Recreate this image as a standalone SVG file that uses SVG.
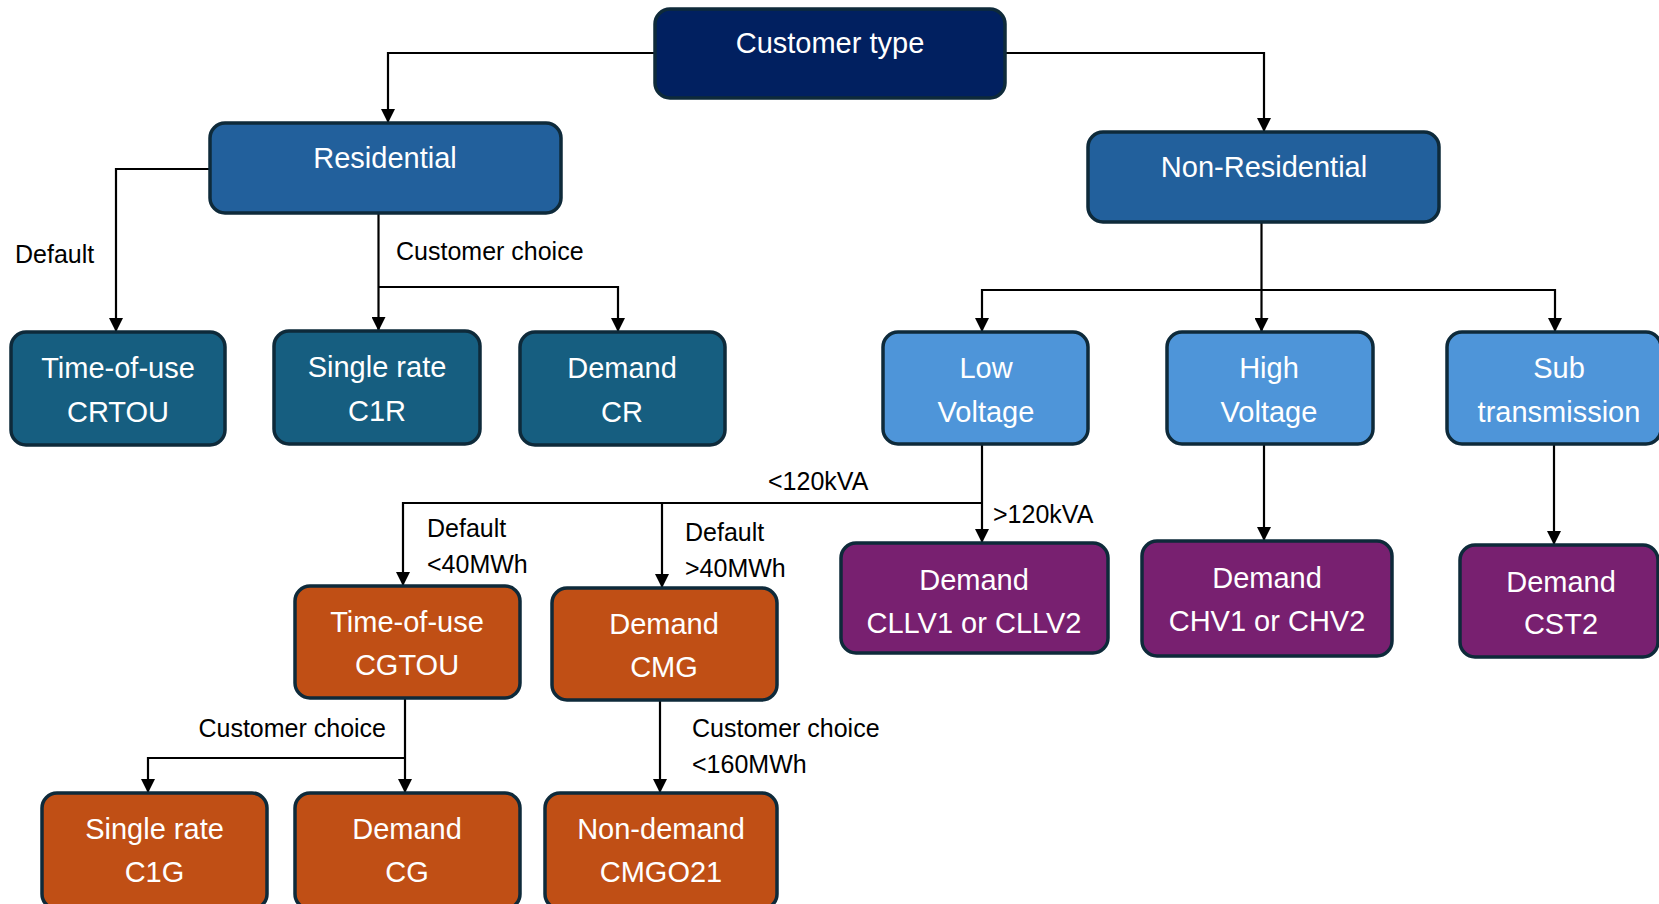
<svg xmlns="http://www.w3.org/2000/svg" width="1659" height="904" viewBox="0 0 1659 904">
<defs>
<style>
.box{stroke:#0E2A3A;stroke-width:3.5}
.navy{fill:#012060}
.blue{fill:#22609C}
.teal{fill:#165E80}
.light{fill:#4E95D9}
.orange{fill:#C04F15}
.purple{fill:#782070}
.nt{font-family:"Liberation Sans",Arial,sans-serif;font-size:29px;fill:#FFFFFF;text-anchor:middle}
.lb{font-family:"Liberation Sans",Arial,sans-serif;font-size:25px;fill:#000000}
.cn{fill:none;stroke:#000000;stroke-width:2.2}
</style>
<marker id="arr" viewBox="0 0 14 14" refX="14" refY="7" markerWidth="14" markerHeight="14" markerUnits="userSpaceOnUse" orient="auto">
<path d="M0 0 L14 7 L0 14 Z" fill="#000000"/>
</marker>
</defs>
<rect width="1659" height="904" fill="#FFFFFF"/>
<g id="connectors">
<path class="cn" d="M655 53 H388 V123" marker-end="url(#arr)"/>
<path class="cn" d="M1005 53 H1264 V132" marker-end="url(#arr)"/>
<path class="cn" d="M210 169 H116 V332" marker-end="url(#arr)"/>
<path class="cn" d="M378.5 213 V331" marker-end="url(#arr)"/>
<path class="cn" d="M378.5 287 H618 V332" marker-end="url(#arr)"/>
<path class="cn" d="M1261.5 222 V332" marker-end="url(#arr)"/>
<path class="cn" d="M1261.5 290 H982 V332" marker-end="url(#arr)"/>
<path class="cn" d="M1261.5 290 H1555 V332" marker-end="url(#arr)"/>
<path class="cn" d="M982 444 V543" marker-end="url(#arr)"/>
<path class="cn" d="M982 503 H403 V586" marker-end="url(#arr)"/>
<path class="cn" d="M662 503 V588" marker-end="url(#arr)"/>
<path class="cn" d="M1264 444 V541" marker-end="url(#arr)"/>
<path class="cn" d="M1554 444 V545" marker-end="url(#arr)"/>
<path class="cn" d="M405 698 V793" marker-end="url(#arr)"/>
<path class="cn" d="M405 758 H148 V793" marker-end="url(#arr)"/>
<path class="cn" d="M660 700 V793" marker-end="url(#arr)"/>
</g>
<g id="labels">
<text class="lb" x="15" y="263">Default</text>
<text class="lb" x="396" y="260">Customer choice</text>
<text class="lb" x="768" y="490">&lt;120kVA</text>
<text class="lb" x="993" y="523">&gt;120kVA</text>
<text class="lb" x="427" y="537">Default</text>
<text class="lb" x="427" y="573">&lt;40MWh</text>
<text class="lb" x="685" y="541">Default</text>
<text class="lb" x="685" y="577">&gt;40MWh</text>
<text class="lb" x="386" y="737" text-anchor="end">Customer choice</text>
<text class="lb" x="692" y="737">Customer choice</text>
<text class="lb" x="692" y="773">&lt;160MWh</text>
</g>
<g id="customer-type"><rect class="box navy" x="655" y="9" width="350" height="89" rx="15"/><text class="nt" x="830" y="53">Customer type</text></g>
<g id="residential"><rect class="box blue" x="210" y="123" width="351" height="90" rx="15"/><text class="nt" x="385" y="168">Residential</text></g>
<g id="non-residential"><rect class="box blue" x="1088" y="132" width="351" height="90" rx="15"/><text class="nt" x="1264" y="177">Non-Residential</text></g>
<g id="crtou"><rect class="box teal" x="11" y="332" width="214" height="113" rx="15"/><text class="nt" x="118" y="378">Time-of-use</text><text class="nt" x="118" y="422">CRTOU</text></g>
<g id="c1r"><rect class="box teal" x="274" y="331" width="206" height="113" rx="15"/><text class="nt" x="377" y="377">Single rate</text><text class="nt" x="377" y="421">C1R</text></g>
<g id="cr"><rect class="box teal" x="520" y="332" width="205" height="113" rx="15"/><text class="nt" x="622" y="378">Demand</text><text class="nt" x="622" y="422">CR</text></g>
<g id="low-voltage"><rect class="box light" x="883" y="332" width="205" height="112" rx="15"/><text class="nt" x="986" y="378">Low</text><text class="nt" x="986" y="422">Voltage</text></g>
<g id="high-voltage"><rect class="box light" x="1167" y="332" width="206" height="112" rx="15"/><text class="nt" x="1269" y="378">High</text><text class="nt" x="1269" y="422">Voltage</text></g>
<g id="sub-transmission"><rect class="box light" x="1447" y="332" width="214" height="112" rx="15"/><text class="nt" x="1559" y="378">Sub</text><text class="nt" x="1559" y="422">transmission</text></g>
<g id="cgtou"><rect class="box orange" x="295" y="586" width="225" height="112" rx="15"/><text class="nt" x="407" y="632">Time-of-use</text><text class="nt" x="407" y="675">CGTOU</text></g>
<g id="cmg"><rect class="box orange" x="552" y="588" width="225" height="112" rx="15"/><text class="nt" x="664" y="634">Demand</text><text class="nt" x="664" y="677">CMG</text></g>
<g id="cllv"><rect class="box purple" x="841" y="543" width="267" height="110" rx="15"/><text class="nt" x="974" y="590">Demand</text><text class="nt" x="974" y="633">CLLV1 or CLLV2</text></g>
<g id="chv"><rect class="box purple" x="1142" y="541" width="250" height="115" rx="15"/><text class="nt" x="1267" y="588">Demand</text><text class="nt" x="1267" y="631">CHV1 or CHV2</text></g>
<g id="cst2"><rect class="box purple" x="1460" y="545" width="198" height="112" rx="15"/><text class="nt" x="1561" y="592">Demand</text><text class="nt" x="1561" y="634">CST2</text></g>
<g id="c1g"><rect class="box orange" x="42" y="793" width="225" height="116" rx="15"/><text class="nt" x="154.5" y="839">Single rate</text><text class="nt" x="154.5" y="882">C1G</text></g>
<g id="cg"><rect class="box orange" x="295" y="793" width="225" height="116" rx="15"/><text class="nt" x="407" y="839">Demand</text><text class="nt" x="407" y="882">CG</text></g>
<g id="cmgo21"><rect class="box orange" x="545" y="793" width="232" height="116" rx="15"/><text class="nt" x="661" y="839">Non-demand</text><text class="nt" x="661" y="882">CMGO21</text></g>
</svg>
